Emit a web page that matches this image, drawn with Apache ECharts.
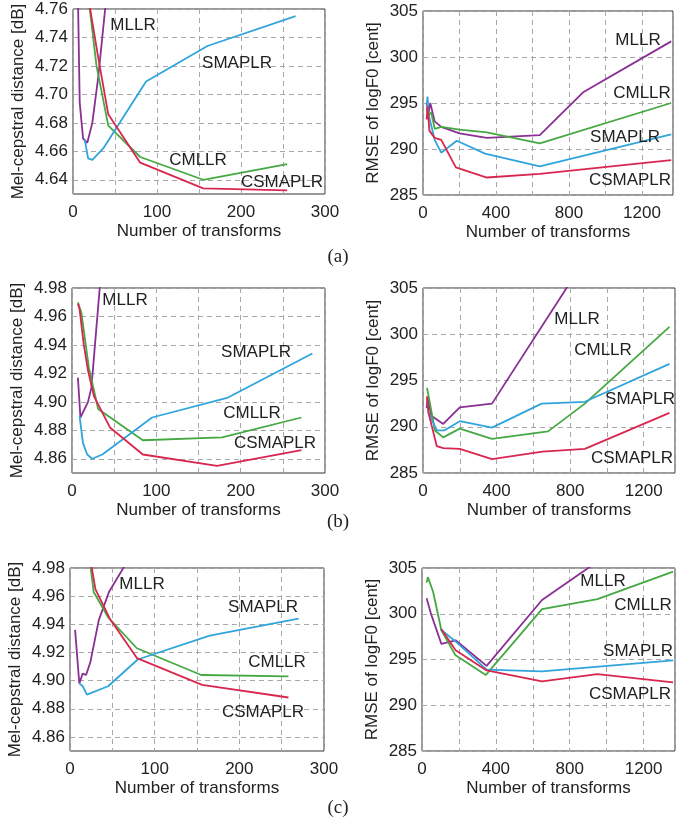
<!DOCTYPE html>
<html><head><meta charset="utf-8">
<script src="https://cdn.jsdelivr.net/npm/echarts@6/dist/echarts.min.js"></script>
<style>html,body{margin:0;padding:0;background:#fff}#c{width:678px;height:824px}</style>
</head><body><div id="c"></div>
<script>
// ---- data: [number of transforms, value] ----
// (a) Mel-cepstral distance
const mcdA_MLLR    = [[5,4.80],[8,4.694],[12,4.669],[17,4.666],[23,4.680],[30,4.712],[40,4.77]];
const mcdA_CMLLR   = [[17,4.775],[28,4.72],[42,4.678],[80,4.656],[155,4.640],[255,4.651]];
const mcdA_SMAPLR  = [[14,4.668],[18,4.655],[23,4.654],[36,4.662],[87,4.709],[160,4.734],[265,4.755]];
const mcdA_CSMAPLR = [[19,4.765],[30,4.726],[42,4.686],[80,4.652],[155,4.634],[255,4.6325]];
// (a) RMSE of logF0
const f0A_MLLR    = [[20,295.0],[30,293.9],[40,295.0],[64,293.0],[100,292.4],[200,291.7],[350,291.2],[640,291.5],[880,296.2],[1360,301.7]];
const f0A_CMLLR   = [[20,294.5],[30,293.6],[45,294.0],[64,292.2],[100,292.4],[200,292.1],[350,291.8],[640,290.6],[1360,295.0]];
const f0A_SMAPLR  = [[20,294.8],[25,295.7],[30,293.8],[64,291.0],[100,289.6],[185,290.9],[340,289.5],[640,288.1],[1360,291.6]];
const f0A_CSMAPLR = [[20,293.2],[25,294.6],[35,292.0],[64,291.2],[100,291.0],[180,288.0],[350,286.9],[640,287.3],[1360,288.8]];
// (b) Mel-cepstral distance
const mcdB_MLLR    = [[7,4.917],[10,4.889],[19,4.900],[23,4.910],[35,4.995]];
const mcdB_CMLLR   = [[7,4.970],[11,4.963],[20,4.924],[31,4.895],[84,4.873],[178,4.875],[272,4.889]];
const mcdB_SMAPLR  = [[9,4.890],[13,4.871],[18,4.863],[24,4.860],[36,4.863],[95,4.889],[185,4.903],[285,4.934]];
const mcdB_CSMAPLR = [[7,4.969],[9,4.965],[14,4.94],[19,4.922],[26,4.904],[45,4.882],[84,4.863],[172,4.855],[272,4.866]];
// (b) RMSE of logF0
const f0B_MLLR    = [[20,292.0],[25,293.2],[45,291.2],[110,290.3],[200,292.1],[375,292.5],[800,305.6]];
const f0B_CMLLR   = [[22,294.2],[65,289.6],[110,288.85],[200,289.8],[375,288.7],[680,289.5],[880,292.5],[1340,300.8]];
const f0B_SMAPLR  = [[25,292.5],[30,291.5],[75,289.6],[115,289.6],[200,290.6],[375,289.9],[645,292.5],[880,292.7],[1340,296.8]];
const f0B_CSMAPLR = [[22,293.3],[30,291.5],[75,287.9],[110,287.7],[200,287.6],[375,286.5],[650,287.3],[880,287.6],[1340,291.5]];
// (c) Mel-cepstral distance
const mcdC_MLLR    = [[6,4.936],[11,4.898],[15,4.905],[19,4.904],[24,4.913],[34,4.943],[46,4.963],[65,4.982]];
const mcdC_CMLLR   = [[20,5.00],[24,4.982],[28,4.963],[45,4.945],[79,4.923],[155,4.904],[258,4.903]];
const mcdC_SMAPLR  = [[11,4.898],[15,4.896],[20,4.890],[45,4.896],[80,4.915],[165,4.932],[270,4.944]];
const mcdC_CSMAPLR = [[23,4.99],[30,4.965],[47,4.944],[79,4.916],[156,4.897],[258,4.888]];
// (c) RMSE of logF0
const f0C_MLLR    = [[25,301.7],[47,300.1],[105,296.7],[182,297.1],[350,294.3],[650,301.5],[950,305.7]];
const f0C_CMLLR   = [[25,303.4],[32,304.0],[60,302.4],[105,298.2],[180,295.5],[345,293.3],[650,300.5],[950,301.6],[1360,304.6]];
const f0C_SMAPLR  = [[100,298.3],[180,297.0],[350,293.9],[650,293.7],[1360,294.9]];
const f0C_CSMAPLR = [[105,298.3],[182,296.0],[350,293.8],[650,292.6],[950,293.4],[1360,292.5]];

const methods = ['MLLR','CMLLR','SMAPLR','CSMAPLR'];
const panelLetters = ['(a)','(b)','(c)'];
const mcdRanges = [[4.63,4.76],[4.85,4.98],[4.85,4.98]];
const f0Range = [285,305];
const xMaxLeft = 300, xMaxRight = 1370;
const yNameLeft = 'Mel-cepstral distance [dB]';
const yNameRight = 'RMSE of logF0 [cent]';
const xName = 'Number of transforms';

const panels = [
  [mcdA_MLLR,mcdA_CMLLR,mcdA_SMAPLR,mcdA_CSMAPLR],
  [f0A_MLLR,f0A_CMLLR,f0A_SMAPLR,f0A_CSMAPLR],
  [mcdB_MLLR,mcdB_CMLLR,mcdB_SMAPLR,mcdB_CSMAPLR],
  [f0B_MLLR,f0B_CMLLR,f0B_SMAPLR,f0B_CSMAPLR],
  [mcdC_MLLR,mcdC_CMLLR,mcdC_SMAPLR,mcdC_CSMAPLR],
  [f0C_MLLR,f0C_CMLLR,f0C_SMAPLR,f0C_CSMAPLR]
];

// ---- styling / layout ----
const colors = {MLLR:'#8a2f94', CMLLR:'#46a843', SMAPLR:'#31a4dc', CSMAPLR:'#d9264f'};
const FONT = 'Liberation Sans, Arial, sans-serif';
const FS = 17;
const TXT = '#222';
const GRIDC = '#a8a8a8';
const grids = [
  {left:73, top:9, width:252, height:185},
  {left:423, top:11, width:250, height:184},
  {left:72, top:288, width:253, height:185},
  {left:423, top:288, width:252, height:185},
  {left:70, top:568, width:254, height:183},
  {left:422, top:568, width:253, height:183}
];
const labelPos = [
  [[133,25],[198,160],[237,63],[282,182]],
  [[638,40],[642,93],[625,137],[630,180]],
  [[125,300],[252,413],[256,352],[275,443]],
  [[577,319],[603,350],[640,399],[632,458]],
  [[142,584],[277,662],[263,607],[263,712]],
  [[603,581],[643,605],[638,651],[630,694]]
];
const letterPos = [[338,257],[338,522],[338,808]];

const option = {animation:false, backgroundColor:'#fff', grid:[], xAxis:[], yAxis:[], series:[], graphic:[]};
panels.forEach((p, i) => {
  const isLeft = i % 2 === 0;
  const row = Math.floor(i/2);
  option.grid.push(Object.assign({show:true, borderColor:'#333', borderWidth:1, backgroundColor:'transparent', containLabel:false}, grids[i]));
  option.xAxis.push({
    type:'value', gridIndex:i, min:0, max: isLeft ? xMaxLeft : xMaxRight, interval: isLeft ? 50 : 200,
    name:xName, nameLocation:'middle', nameGap:29,
    nameTextStyle:{fontFamily:FONT, fontSize:FS, color:TXT},
    axisLine:{show:false}, axisTick:{show:false},
    axisLabel:{fontFamily:FONT, fontSize:FS, color:TXT, margin:10, showMaxLabel:true,
      formatter: v => (isLeft ? (v % 100 === 0) : (v % 400 === 0)) ? String(v) : ''},
    splitLine:{show:true, lineStyle:{color:GRIDC, width:1, type:[5,4]}}
  });
  if (isLeft) {
    const r = mcdRanges[row];
    option.yAxis.push({
      type:'value', gridIndex:i, min:r[0], max:r[1], interval:0.01,
      name:yNameLeft, nameLocation:'middle', nameGap:46,
      nameTextStyle:{fontFamily:FONT, fontSize:FS, color:TXT},
      axisLine:{show:false}, axisTick:{show:false},
      axisLabel:{fontFamily:FONT, fontSize:FS, color:TXT, margin:5,
        formatter: v => (Math.round(v*100) % 2 === 0) ? v.toFixed(2) : ''},
      splitLine:{show:true, lineStyle:{color:['rgba(0,0,0,0)', GRIDC], width:1, type:[5,4]}}
    });
  } else {
    option.yAxis.push({
      type:'value', gridIndex:i, min:f0Range[0], max:f0Range[1], interval:5,
      name:yNameRight, nameLocation:'middle', nameGap:41,
      nameTextStyle:{fontFamily:FONT, fontSize:FS, color:TXT},
      axisLine:{show:false}, axisTick:{show:false},
      axisLabel:{fontFamily:FONT, fontSize:FS, color:TXT, margin:5},
      splitLine:{show:true, lineStyle:{color:GRIDC, width:1, type:[5,4]}}
    });
  }
  p.forEach((d, k) => {
    option.series.push({
      type:'line', name:methods[k], xAxisIndex:i, yAxisIndex:i, data:d,
      showSymbol:false, symbol:'none', clip:true,
      lineStyle:{color:colors[methods[k]], width:1.8}, z: 3
    });
    option.graphic.push({
      type:'text', x:labelPos[i][k][0], y:labelPos[i][k][1],
      style:{text:methods[k], font:FS + 'px ' + FONT, fill:TXT, align:'center', verticalAlign:'middle'}, z:10
    });
  });
});
panelLetters.forEach((t, j) => {
  option.graphic.push({type:'text', x:letterPos[j][0], y:letterPos[j][1],
    style:{text:t, font:'19px Liberation Serif, Times New Roman, serif', fill:TXT, align:'center', verticalAlign:'middle'}});
});
const chart = echarts.init(document.getElementById('c'), null, {renderer:'canvas'});
chart.setOption(option);
</script>
</body></html>
